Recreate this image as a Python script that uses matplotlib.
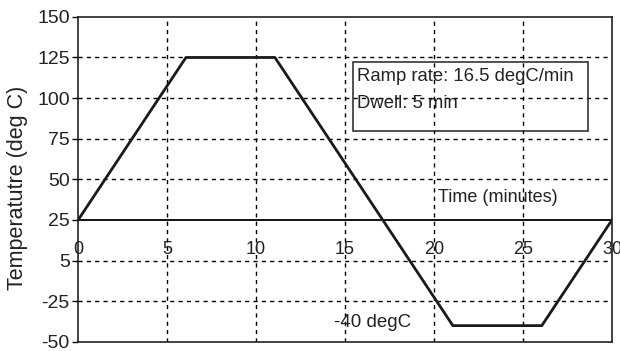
import matplotlib.pyplot as plt
from matplotlib.patches import Rectangle

plt.rcParams['font.family'] = ['Liberation Sans', 'DejaVu Sans']

# thermal cycle profile: 16.5 degC/min ramps, 5 min dwells
time_min = [0, 6.06, 11.06, 21.06, 26.06, 30]
temp_c = [25, 125, 125, -40, -40, 25]

y_ticks = [150, 125, 100, 75, 50, 25, 0, -25, -50]
y_labels = ['150', '125', '100', '75', '50', '25', '5', '-25', '-50']
x_ticks = [0, 5, 10, 15, 20, 25, 30]

fig = plt.figure(figsize=(6.2, 3.51), dpi=100)
ax = fig.add_axes([0.126, 0.026, 0.861, 0.926])

ax.set_xlim(0, 30)
ax.set_ylim(-50, 150)

# dashed grid
for x in x_ticks[1:-1]:
    ax.axvline(x, color='black', linestyle=(0, (3, 3)), linewidth=1, zorder=1)
for y in y_ticks[1:-1]:
    if y != 25:
        ax.axhline(y, color='black', linestyle=(0, (3, 3)), linewidth=1, zorder=1)

# time axis drawn at 25 degC
ax.axhline(25, color='black', linewidth=1.3, zorder=2)
for x in x_ticks:
    ax.text(x, 7, str(x), ha='center', va='center', fontsize=13,
            color='#222222', clip_on=False)
ax.text(20.2, 39, 'Time (minutes)', ha='left', va='center', fontsize=13,
        color='#222222')

ax.plot(time_min, temp_c, color='#1a1a1a', linewidth=2, zorder=3)

ax.set_xticks([])
ax.set_yticks(y_ticks)
ax.set_yticklabels(y_labels, fontsize=14, color='#222222')
ax.tick_params(axis='y', direction='out', length=4, width=1, pad=2)
ax.set_ylabel('Temperatutre (deg C)', fontsize=15.5, color='#222222')
ax.yaxis.set_label_coords(-0.094, 0.475)

for s in ax.spines.values():
    s.set_linewidth(1.2)
    s.set_color('#222222')

# annotation box
ax.add_patch(Rectangle((15.45, 79.8), 13.2, 42.5, fill=False,
                       edgecolor='#333333', linewidth=1.2, zorder=2))
ax.text(15.7, 113.5, 'Ramp rate: 16.5 degC/min', ha='left', va='center',
        fontsize=13.3, color='#222222')
ax.text(15.7, 96.8, 'Dwell: 5 min', ha='left', va='center',
        fontsize=13.3, color='#222222')

ax.text(14.4, -37.8, '-40 degC', ha='left', va='center', fontsize=13.5,
        color='#222222')

fig.savefig('out.png', dpi=100)
